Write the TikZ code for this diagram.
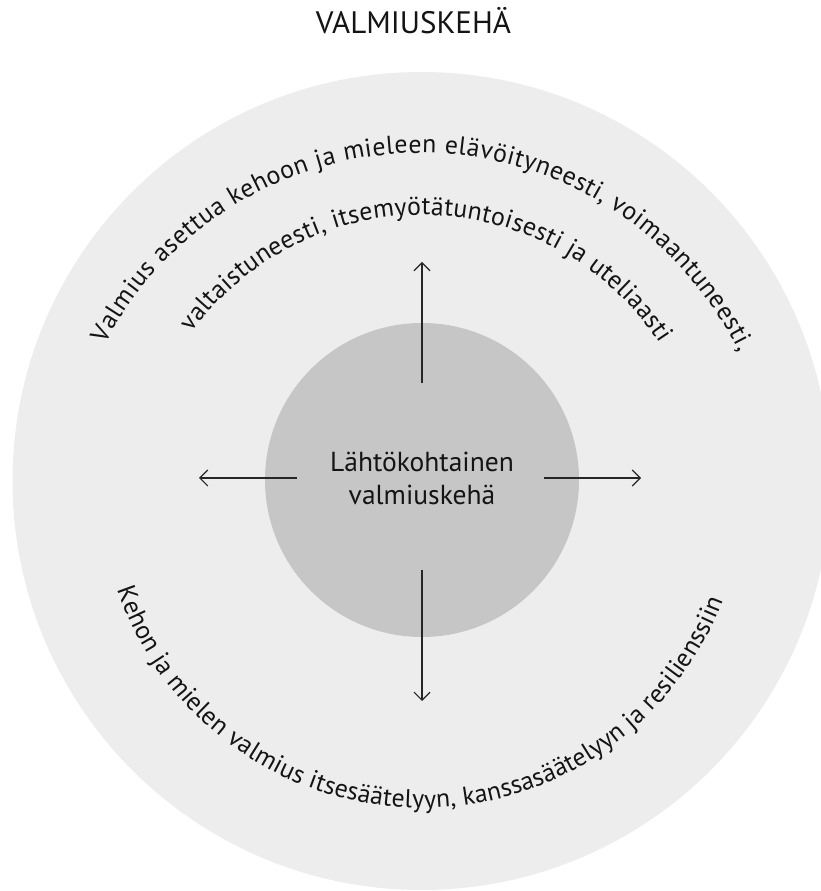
\documentclass[tikz,border=0pt]{standalone}
\usepackage{fontspec}
\setmainfont{PT Sans}
\usetikzlibrary{decorations.text, arrows.meta}
\definecolor{ringfill}{HTML}{EDEDED}
\definecolor{corefill}{HTML}{C6C6C6}
\definecolor{ink}{HTML}{141414}
\definecolor{arrowink}{HTML}{262626}
\newcommand{\arcfont}{\fontsize{25.8}{31}\selectfont\color{ink}}
\begin{document}
\begin{tikzpicture}[x=1pt,y=1pt,
  spoke/.style={draw=arrowink, line width=1.1pt,
    -{Straight Barb[length=8pt,width=16pt]}},
  arctext/.style={decorate, decoration={text along path, text align={fit to path}}},
  label/.style={anchor=base, text=ink, font=\fontsize{27.5}{33}\selectfont},
]
\useasboundingbox (0,0) rectangle (821,891);

% title
\node[anchor=base, text=ink, font=\fontsize{31}{36}\selectfont] (title) at (413.5,857) {VALMIUSKEHÄ};

% outer ring and core disc
\fill[ringfill] (421.5,410) circle[radius=409];
\node[circle, fill=corefill, minimum size=314pt, inner sep=0pt] (core) at (422,411) {};

% core label
\node[label] (line1) at (422,419) {Lähtökohtainen};
\node[label] (line2) at (422,386) {valmiuskehä};

% spokes
\coordinate (upS) at (422,508);   \coordinate (upE) at (422,629);
\coordinate (dnS) at (422,321);   \coordinate (dnE) at (422,190);
\coordinate (ltS) at (297,413);   \coordinate (ltE) at (199,413);
\coordinate (rtS) at (544,413);   \coordinate (rtE) at (641,413);
\draw[spoke] (upS) -- (upE);
\draw[spoke] (dnS) -- (dnE);
\draw[spoke] (ltS) -- (ltE);
\draw[spoke] (rtS) -- (rtE);

% curved texts
\path[arctext, decoration={text={|\arcfont|Valmius asettua kehoon ja mieleen elävöityneesti, voimaantuneesti,}}]
  (420,383) ++(152.5:355) arc[start angle=152.5, end angle=26, radius=355];
\path[arctext, decoration={text={|\arcfont|valtaistuneesti, itsemyötätuntoisesti ja uteliaasti}}]
  (422,392) ++(144.2:284) arc[start angle=144.2, end angle=33.2, radius=284];
\path[arctext, decoration={text={|\arcfont|Kehon ja mielen valmius itsesäätelyyn, kanssasäätelyyn ja resilienssiin}}]
  (422,405) ++(198.7:322) arc[start angle=198.7, end angle=339.2, radius=322];
\end{tikzpicture}
\end{document}
